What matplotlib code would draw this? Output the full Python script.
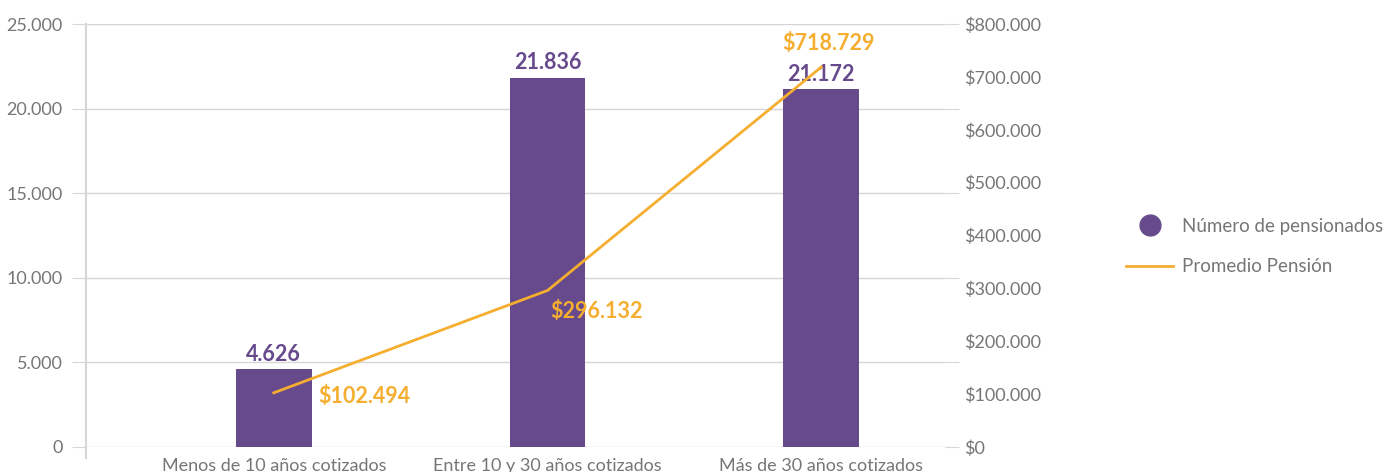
import matplotlib.pyplot as plt
from matplotlib.lines import Line2D
from matplotlib.ticker import FuncFormatter

# Pensionados por años cotizados
categorias = ["Menos de 10 años cotizados", "Entre 10 y 30 años cotizados", "Más de 30 años cotizados"]
pensionados = [4626, 21836, 21172]
promedio_pension = [102494, 296132, 718729]

MORADO = "#674a8c"
NARANJO = "#f5ae2f"
GRIS_TEXTO = "#767676"
GRIS_LINEA = "#d6d6d6"


def miles(v):
    return f"{int(round(v)):,}".replace(",", ".")


plt.rcParams['font.family'] = ['Lato', 'DejaVu Sans']

fig = plt.figure(figsize=(13.87, 4.72), dpi=100)
ax = fig.add_axes([0.062, 0.053, 0.619, 0.896])
ax2 = ax.twinx()

x = list(range(len(categorias)))
ax.bar(x, pensionados, width=0.277, color=MORADO, zorder=2)
ax2.plot(x, promedio_pension, color=NARANJO, linewidth=2, zorder=3)

ax.set_xlim(-0.686, 2.45)
ax.set_ylim(0, 25000)
ax2.set_ylim(0, 800000)
ax.set_yticks(range(0, 25001, 5000))
ax2.set_yticks(range(0, 800001, 100000))
ax.yaxis.set_major_formatter(FuncFormatter(lambda v, p: miles(v)))
ax2.yaxis.set_major_formatter(FuncFormatter(lambda v, p: "$" + miles(v)))

ax.set_xticks(x)
ax.set_xticklabels(categorias)

ax.grid(axis='y', color=GRIS_LINEA, linewidth=1, zorder=0)
ax.set_axisbelow(True)
for a in (ax, ax2):
    for s in a.spines.values():
        s.set_visible(False)
ax.spines['left'].set_visible(True)
ax.spines['left'].set_color(GRIS_LINEA)
ax.spines['left'].set_linewidth(1.5)
ax.add_line(Line2D([0, 0], [-0.025, 0], transform=ax.transAxes, color=GRIS_LINEA,
                   linewidth=1.5, clip_on=False))

ax.tick_params(axis='y', length=10, color=GRIS_LINEA, labelsize=13,
               labelcolor=GRIS_TEXTO, pad=7, right=True)
ax.tick_params(axis='x', length=0, labelsize=13, labelcolor=GRIS_TEXTO, pad=8)
ax2.tick_params(axis='y', length=0, labelsize=13, labelcolor=GRIS_TEXTO, pad=14)

# etiquetas de valores
for xi, v in zip(x, pensionados):
    ax.annotate(miles(v), (xi, v), xytext=(0, 3), textcoords='offset points',
                ha='center', va='bottom', color=MORADO, fontsize=15.5, fontweight='bold')

offsets = [(32, -3), (2, -15), (5, 17)]
aligns = ['left', 'left', 'center']
for xi, v, off, h in zip(x, promedio_pension, offsets, aligns):
    ax2.annotate("$" + miles(v), (xi, v), xytext=off, textcoords='offset points',
                 ha=h, va='center', color=NARANJO, fontsize=15.5, fontweight='bold')

handles = [
    Line2D([], [], marker='o', linestyle='none', markersize=15, color=MORADO),
    Line2D([], [], color=NARANJO, linewidth=2),
]
fig.legend(handles, ["Número de pensionados", "Promedio Pensión"], loc='center left',
           bbox_to_anchor=(0.800, 0.478), frameon=False, fontsize=13.5,
           labelcolor=GRIS_TEXTO, handlelength=2.5, handletextpad=0.45, labelspacing=1.25)

fig.savefig("out.png", dpi=100)
